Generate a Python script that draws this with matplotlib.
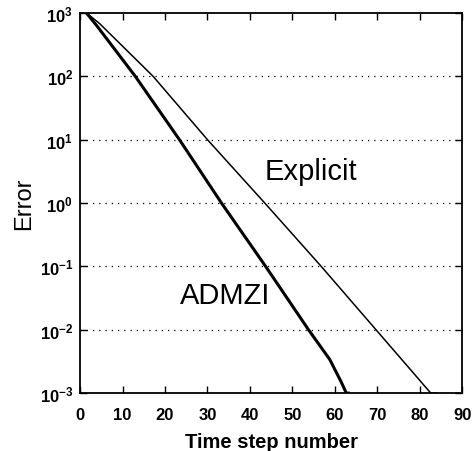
import numpy as np
import matplotlib
matplotlib.use("Agg")
from matplotlib import pyplot as plt

# valori
t_expl = [1.5, 4.6, 17.2, 30, 43.5, 56.8, 69.7, 82.6, 84]
e_expl = [1000, 680, 100, 10, 1, 0.1, 0.01, 0.001, 0.001]

t_adm = [1.5, 4, 13, 23.4, 33.3, 43.7, 53.8, 58.8, 61.5, 62.7, 63.2]
e_adm = [1000, 620, 100, 10, 1, 0.1, 0.01, 0.0034, 0.0015, 0.001, 0.001]

xticks = [0, 10, 20, 30, 40, 50, 60, 70, 80, 90]
yticks = [1e-3, 1e-2, 1e-1, 1e0, 1e1, 1e2, 1e3]
ylabels = [r'$\mathbf{10^{-3}}$', r'$\mathbf{10^{-2}}$', r'$\mathbf{10^{-1}}$',
           r'$\mathbf{10^{0}}$', r'$\mathbf{10^{1}}$', r'$\mathbf{10^{2}}$',
           r'$\mathbf{10^{3}}$']

plt.rcParams['font.family'] = ['Liberation Sans', 'DejaVu Sans']
plt.rcParams['mathtext.fontset'] = 'custom'
plt.rcParams['mathtext.rm'] = 'Liberation Sans'
plt.rcParams['mathtext.bf'] = 'Liberation Sans:bold'

fig = plt.figure(figsize=(4.77, 4.52), dpi=100)
ax = fig.add_axes([0.168, 0.128, 0.801, 0.841])

ax.semilogy(t_expl, e_expl, '-', c='black', linewidth=1.1)
ax.semilogy(t_adm, e_adm, '-', c='black', linewidth=2.2)

ax.set_xlim(0, 90)
ax.set_ylim(1e-3, 1e3)
ax.set_xticks(xticks)
ax.set_xticklabels([str(v) for v in xticks], fontweight='bold', fontsize=12)
ax.set_yticks(yticks)
ax.set_yticklabels(ylabels, fontsize=12)
ax.minorticks_off()
ax.tick_params(direction='in', top=True, right=True, length=5, width=1)
ax.tick_params(axis='x', pad=10)
ax.tick_params(axis='y', pad=5)

for v in yticks[1:-1]:
    ax.axhline(v, color='black', linestyle=(0, (1, 4)), linewidth=0.9)

for s in ax.spines.values():
    s.set_linewidth(1.3)

ax.text(43.5, 3.2, 'Explicit', fontsize=21, va='center')
ax.text(23.5, 0.035, 'ADMZI', fontsize=21, va='center')

ax.set_xlabel('Time step number', fontsize=14.5, fontweight='bold', labelpad=7)
ax.set_ylabel('Error', fontsize=17, labelpad=3)

fig.savefig('out.png', dpi=100)
